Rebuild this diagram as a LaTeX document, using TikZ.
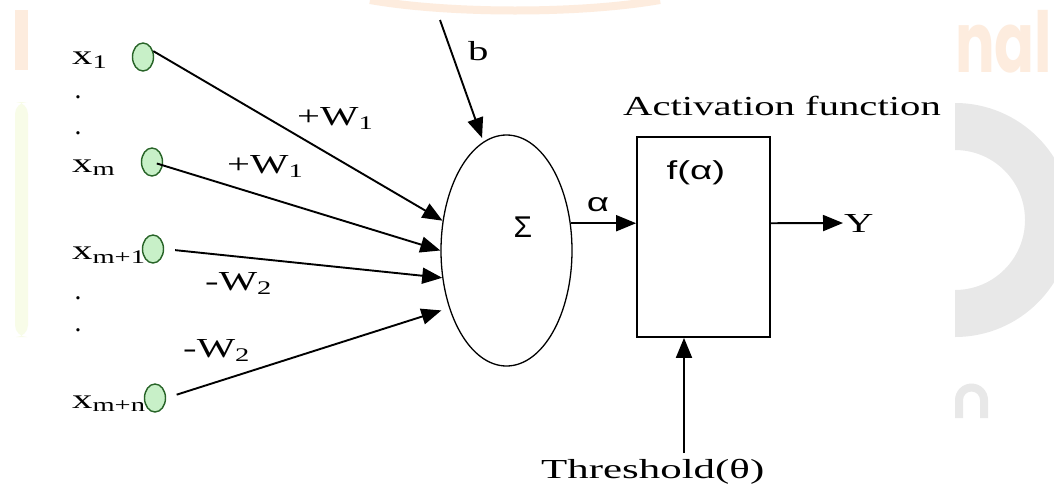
\documentclass[tikz,border=0pt]{standalone}
\usepackage{graphicx}
\usepackage{fontspec}
\setmainfont{Liberation Serif}
\newfontfamily\sansf{Liberation Sans}
\newfontfamily\wmfont{Poppins}
\usetikzlibrary{arrows.meta,shapes.geometric}
\definecolor{inpfill}{RGB}{200,240,200}
\definecolor{inpdraw}{RGB}{40,100,40}
\definecolor{wmorange}{RGB}{253,236,222}
\definecolor{wmgreen}{RGB}{248,252,232}
\definecolor{wmgray}{RGB}{232,232,232}
\newcommand\hstr[1]{\scalebox{1.48}[1]{#1}}
\begin{document}
\begin{tikzpicture}[x=1pt,y=-1pt,
  arr/.style={line width=1.9pt, -{Triangle[length=20pt,width=16pt]}},
  lbl/.style={inner sep=0pt, font=\fontsize{27.5}{30}\selectfont},
  sns/.style={inner sep=0pt, font=\sansf\fontsize{26}{30}\selectfont},
  inp/.style={ellipse, draw=inpdraw, fill=inpfill, line width=1.4pt,
    minimum width=21pt, minimum height=28pt, inner sep=0pt},
  sumnode/.style={ellipse, draw, line width=1.3pt, minimum width=131pt,
    minimum height=231pt, inner sep=0pt},
  actnode/.style={rectangle, draw, line width=1.8pt, minimum width=133pt,
    minimum height=200pt, inner sep=0pt},
]
\useasboundingbox (0,0) rectangle (1054,488);
\fill[white] (0,0) rectangle (1054,488);
% faint watermark
\fill[wmorange] (15,10) rectangle (28,70);
\fill[wmgreen, rounded corners=12pt] (15,102) rectangle (28,337);
\draw[wmorange, line width=8pt] (370,0) .. controls (450,14) and (580,14) .. (660,0);
\begin{scope}
\clip (955,0) rectangle (1054,488);
\fill[wmgray, even odd rule] (955,220) circle (117) (955,220) circle (70);
\end{scope}
\fill[wmgray] (955,418) -- (955,400) arc (180:360:16.5) -- (988,418) -- (980,418)
  -- (980,400) arc (360:180:8.5) -- (963,418) -- cycle;
\node[inner sep=0pt, anchor=base west, text=wmorange,
  font=\wmfont\bfseries\fontsize{84}{90}\selectfont] (wm) at (955,72)
  {\scalebox{0.7}[1]{nal}};
% main nodes
\node[sumnode] (sum) at (506.5,250.5) {};
\node[actnode] (act) at (703.5,237) {};
\node[inp] (c1) at (143,57) {};
\node[inp] (c2) at (152,162) {};
\node[inp] (c3) at (153,249) {};
\node[inp] (c4) at (155,398) {};
% input labels
\node[lbl, anchor=base west] (l1) at (72,64) {\hstr{x\textsubscript{1}}};
\node[lbl, anchor=base west] (l2) at (72,172) {\hstr{x\textsubscript{m}}};
\node[lbl, anchor=base west] (l3) at (72,259) {\hstr{x\textsubscript{m+1}}};
\node[lbl, anchor=base west] (l4) at (72,408) {\hstr{x\textsubscript{m+n}}};
\node[lbl] (d1) at (78,97) {.};
\node[lbl] (d2) at (78,133) {.};
\node[lbl] (d3) at (78,298) {.};
\node[lbl] (d4) at (78,330) {.};
% weights
\node[lbl, anchor=base west] (w1) at (297,125) {\hstr{+W\textsubscript{1}}};
\node[lbl, anchor=base west] (w2) at (227,173) {\hstr{+W\textsubscript{1}}};
\node[lbl, anchor=base west] (w3) at (205,290) {\hstr{-W\textsubscript{2}}};
\node[lbl, anchor=base west] (w4) at (183,357) {\hstr{-W\textsubscript{2}}};
% other labels
\node[lbl, anchor=base west] (blab) at (468,60) {\hstr{b}};
\node[lbl, anchor=base west] (actlab) at (623,115) {\hstr{Activation function}};
\node[lbl, anchor=base west] (thr) at (541,478) {\scalebox{1.56}[1]{Threshold(θ)}};
\node[lbl, anchor=west, inner sep=1pt] (ylab) at (843,223) {\hstr{Y}};
\node[sns, font=\sansf\fontsize{30}{32}\selectfont] (sig) at (523,227) {Σ};
\node[sns] (fa) at (696,173) {\hstr{f(α)}};
\node[sns] (alab) at (598,205) {\hstr{α}};
% connectors
\coordinate (bstart) at (440,20);
\coordinate (tstart) at (684,453);
\draw[arr] (c1.30) -- (sum.155);
\draw[arr, shorten <=5pt] (c2.center) -- (sum.180);
\draw[arr, shorten <=11pt] (c3.east) -- (sum.203);
\draw[arr, shorten <=11pt, shorten >=8pt] (c4.east) -- (sum.225);
\draw[arr, shorten >=4pt] (bstart) -- (sum.102);
\draw[arr] (sum.23) -- (sum.23 -| act.west);
\draw[arr] (sum.23 -| act.east) -- (ylab.west);
\draw[arr] (tstart) -- (tstart |- act.south);
\end{tikzpicture}
\end{document}
